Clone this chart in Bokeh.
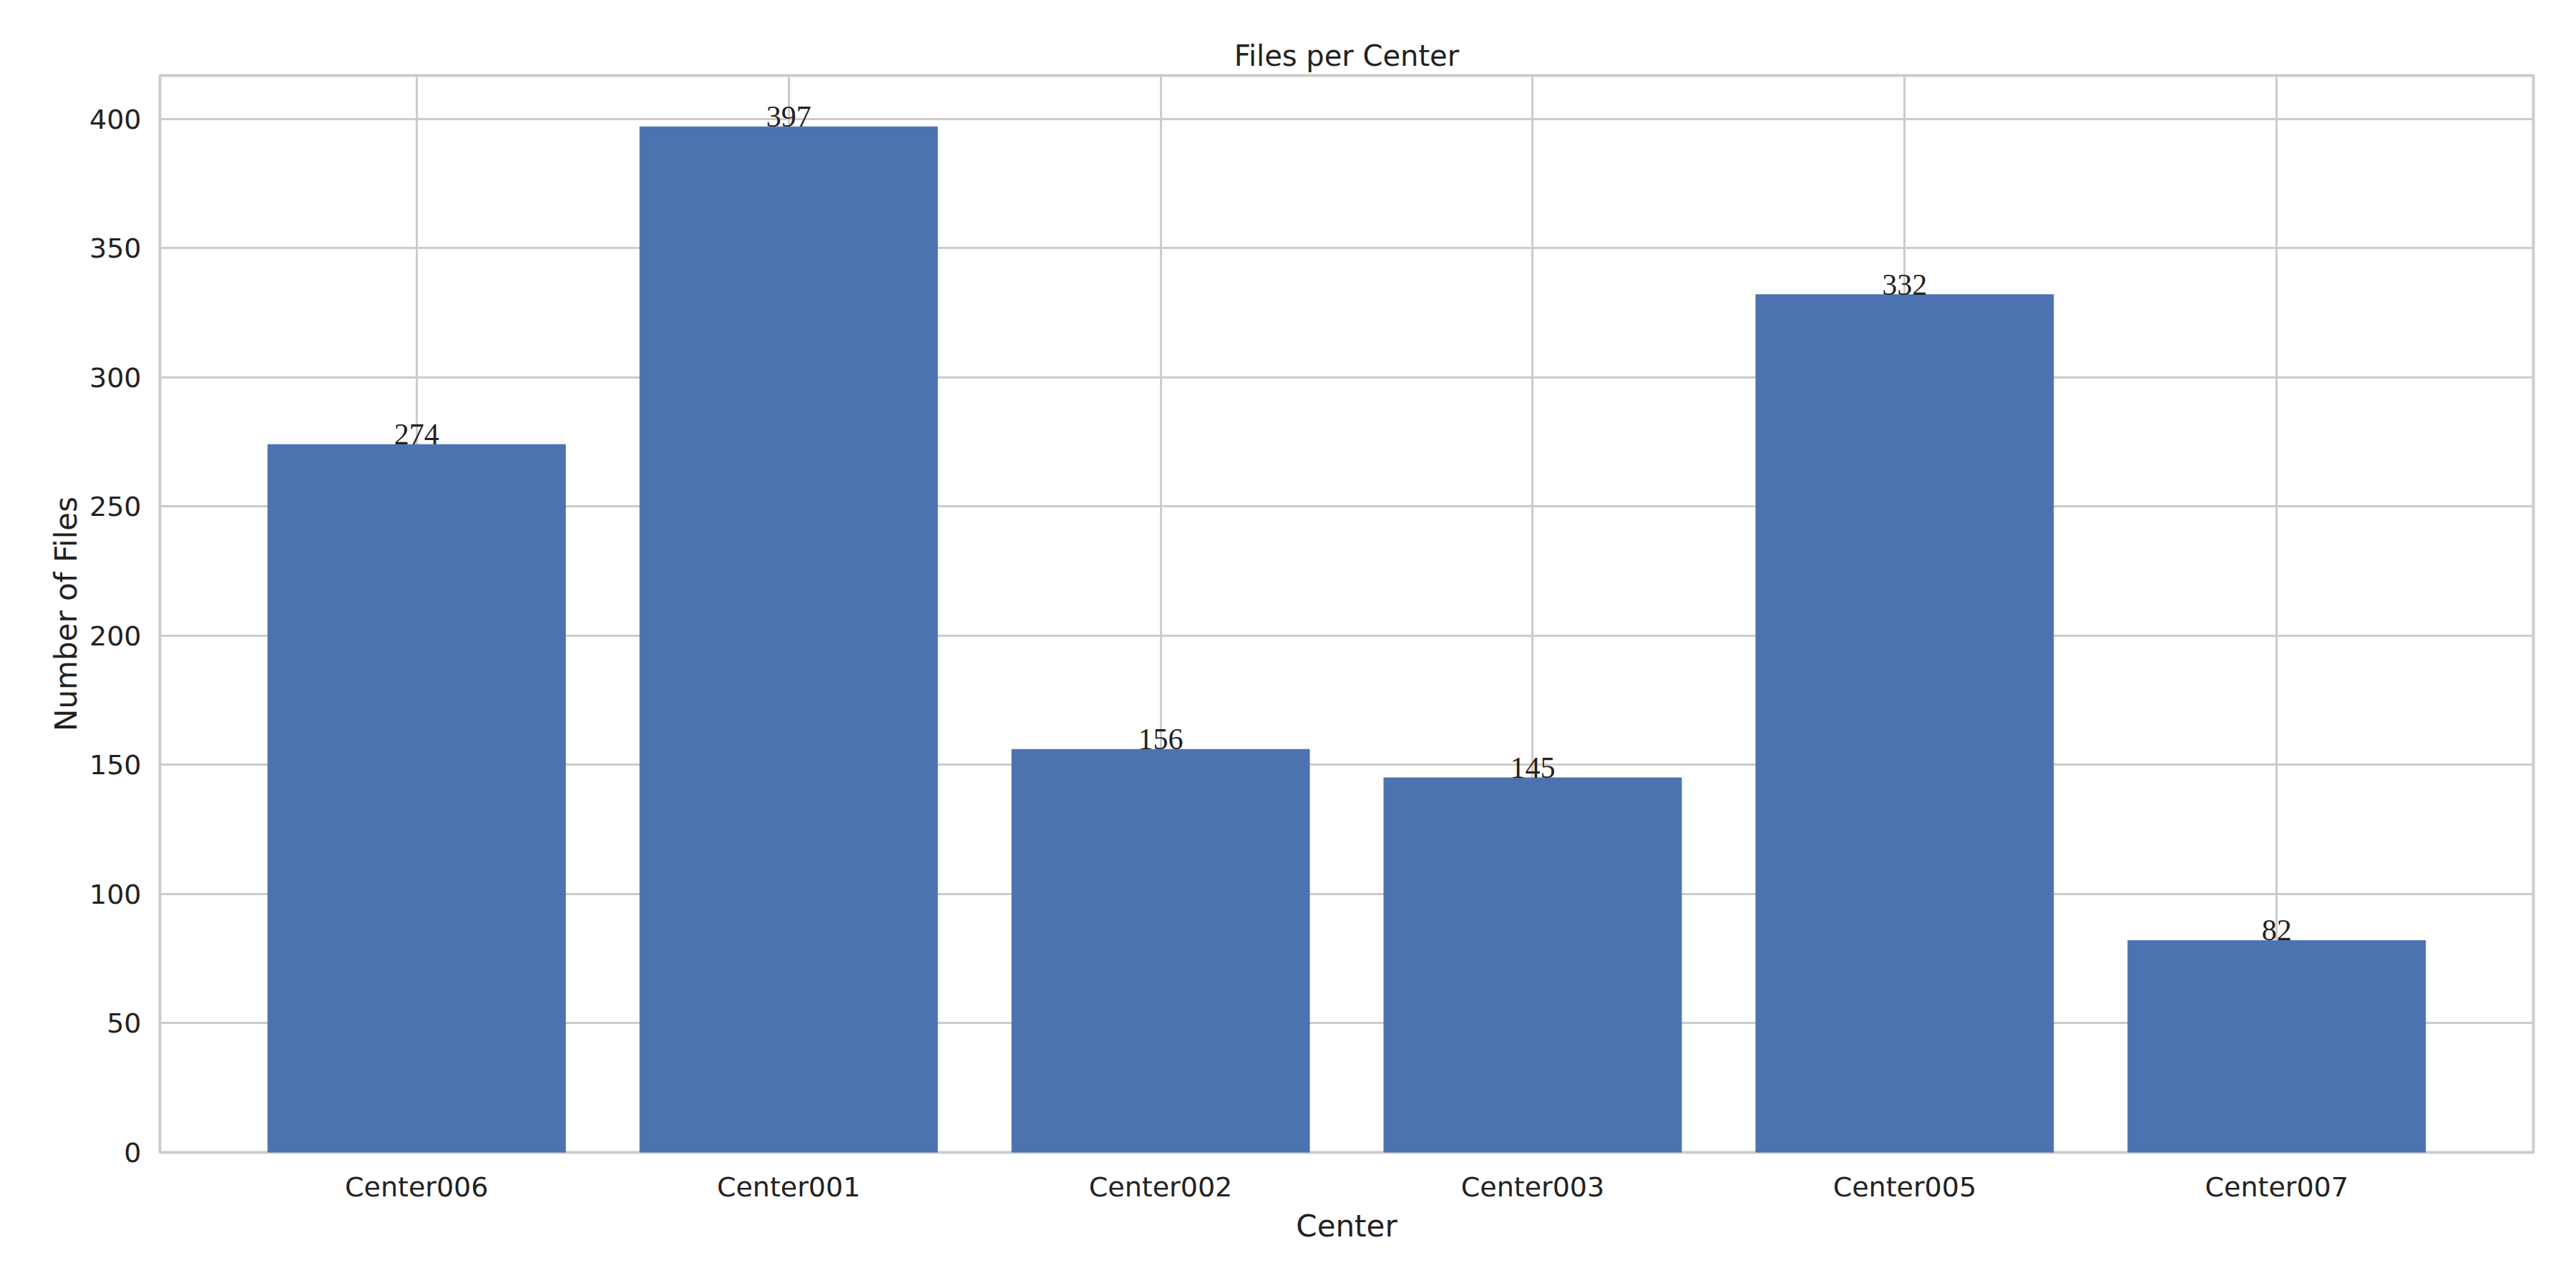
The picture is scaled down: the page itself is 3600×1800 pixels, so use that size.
from bokeh.plotting import figure
from bokeh.models import ColumnDataSource, Range1d, FixedTicker, LabelSet
from bokeh.embed import file_html
from bokeh.resources import INLINE

centers = ["Center006", "Center001", "Center002", "Center003", "Center005", "Center007"]
files = [274, 397, 156, 145, 332, 82]

xs = list(range(len(centers)))
src = ColumnDataSource(dict(x=xs, top=files, label=[str(v) for v in files]))

p = figure(width=3580, height=1780, output_backend="svg", toolbar_location=None,
           title="Files per Center",
           x_range=Range1d(-0.69, len(centers) - 1 + 0.69),
           y_range=Range1d(0, max(files) * 1.05),
           min_border_left=223, min_border_right=40, min_border_top=105,
           min_border_bottom=170)

p.vbar(x="x", top="top", width=0.8, source=src, color="#4c72b0")
p.add_layout(LabelSet(x="x", y="top", text="label", source=src, text_align="center",
                      text_baseline="bottom", text_font_size="42px", text_color="#222222",
                      text_font="DejaVu Sans"))

p.title.align = "center"
p.title.text_font_size = "40px"
p.title.text_font_style = "normal"
p.title.text_font = "DejaVu Sans"
p.title.text_color = "#222222"

p.xaxis.ticker = FixedTicker(ticks=xs)
p.xaxis.major_label_overrides = {i: c for i, c in enumerate(centers)}
p.yaxis.ticker = FixedTicker(ticks=list(range(0, 401, 50)))
p.xaxis.axis_label = "Center"
p.yaxis.axis_label = "Number of Files"

for ax in (p.xaxis, p.yaxis):
    ax.axis_label_text_font_size = "42px"
    ax.axis_label_text_font_style = "normal"
    ax.axis_label_text_font = "DejaVu Sans"
    ax.axis_label_text_color = "#222222"
    ax.major_label_text_font_size = "38px"
    ax.major_label_text_font = "DejaVu Sans"
    ax.major_label_text_color = "#222222"
    ax.axis_line_color = None
    ax.major_tick_line_color = None
    ax.minor_tick_line_color = None
    ax.major_label_standoff = 20

p.grid.grid_line_color = "#cccccc"
p.grid.grid_line_width = 3
p.outline_line_color = "#cccccc"
p.outline_line_width = 4
p.xgrid.level = "underlay"
p.ygrid.level = "underlay"

open("out.html", "w").write(file_html(p, INLINE))
